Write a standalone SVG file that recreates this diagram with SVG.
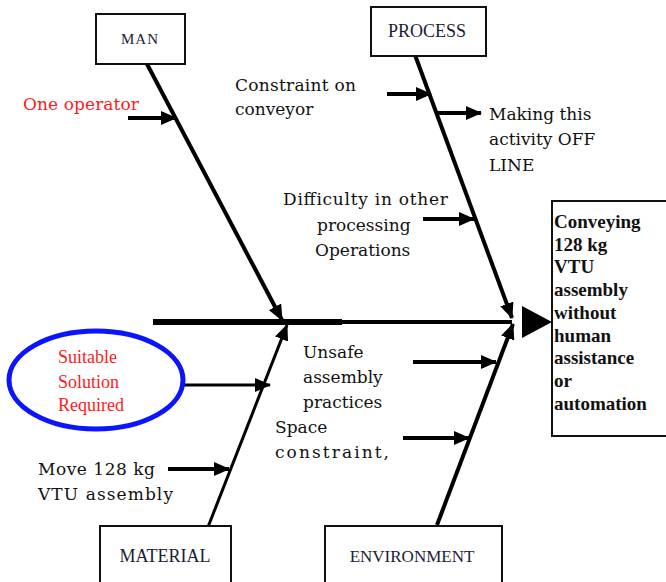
<svg xmlns="http://www.w3.org/2000/svg" width="666" height="582" viewBox="0 0 666 582">
<style>
  text { font-family: "Liberation Serif", serif; fill: #111; }
  .lbl { font-family: "DejaVu Serif", serif; font-size: 17px; }
  .cat { text-anchor: middle; fill: #1c1c33; }
  .red { fill: #ff1a1a; }
  .eff { font-size: 19px; font-weight: bold; }
  .box { fill: #fff; stroke: #111; stroke-width: 2; }
  .sub { stroke: #000; stroke-width: 4; fill: none; marker-end: url(#ah); }
</style>
<defs>
  <marker id="ah" markerUnits="userSpaceOnUse" markerWidth="16" markerHeight="14" refX="15" refY="7" orient="auto">
    <path d="M0,0 L16,7 L0,14 z" fill="#000"/>
  </marker>
</defs>
<rect width="666" height="582" fill="#fff"/>

<g id="connectors">
  <line x1="153" y1="322" x2="342" y2="322" stroke="#000" stroke-width="6"/>
  <line x1="340" y1="322" x2="512" y2="322" stroke="#000" stroke-width="4"/>
  <polygon points="522,306 552,322 522,338" fill="#000"/>
  <line class="sub" x1="147" y1="64" x2="282" y2="320"/>
  <line class="sub" x1="415" y1="55" x2="512" y2="318"/>
  <line class="sub" x1="208" y1="527" x2="287" y2="325" style="stroke-width:3"/>
  <line class="sub" x1="437" y1="525" x2="513" y2="324"/>
  <line class="sub" x1="128" y1="118" x2="176" y2="118"/>
  <line class="sub" x1="387" y1="94" x2="431" y2="94"/>
  <line class="sub" x1="436" y1="113" x2="481" y2="113"/>
  <line class="sub" x1="423" y1="219" x2="474" y2="219"/>
  <line class="sub" x1="183" y1="385" x2="270" y2="385" style="stroke-width:3"/>
  <line class="sub" x1="168" y1="469" x2="229" y2="469"/>
  <line class="sub" x1="413" y1="362" x2="496" y2="362"/>
  <line class="sub" x1="403" y1="438" x2="469" y2="438"/>
</g>

<g id="man">
  <rect class="box" x="96" y="14" width="89" height="50"/>
  <text class="cat" x="140" y="44" style="font-size:15px" letter-spacing="1">MAN</text>
</g>
<g id="process">
  <rect class="box" x="371" y="7" width="115" height="49"/>
  <text class="cat" x="427" y="37" style="font-size:18px">PROCESS</text>
</g>
<g id="material">
  <rect class="box" x="100" y="526" width="131" height="70"/>
  <text class="cat" x="165" y="562" style="font-size:18px">MATERIAL</text>
</g>
<g id="environment">
  <rect class="box" x="325" y="526" width="177" height="70"/>
  <text class="cat" x="412" y="562" style="font-size:17px">ENVIRONMENT</text>
</g>
<g id="effect">
  <rect class="box" x="552" y="201" width="120" height="235"/>
  <text class="eff" x="554" y="228">Conveying</text>
  <text class="eff" x="554" y="251">128 kg</text>
  <text class="eff" x="554" y="273">VTU</text>
  <text class="eff" x="554" y="296">assembly</text>
  <text class="eff" x="554" y="319">without</text>
  <text class="eff" x="554" y="342">human</text>
  <text class="eff" x="554" y="364">assistance</text>
  <text class="eff" x="554" y="387">or</text>
  <text class="eff" x="554" y="410">automation</text>
</g>
<g id="suitable">
  <ellipse cx="96" cy="380" rx="87" ry="49" fill="#fff" stroke="#0a14ff" stroke-width="5"/>
  <text class="red" x="58" y="363" style="font-size:18px">Suitable</text>
  <text class="red" x="58" y="388" style="font-size:18px">Solution</text>
  <text class="red" x="58" y="411" style="font-size:18px">Required</text>
</g>
<g id="one-operator">
  <text class="lbl red" x="23" y="110" textLength="116">One operator</text>
</g>
<g id="constraint">
  <text class="lbl" x="235" y="91" textLength="121">Constraint on</text>
  <text class="lbl" x="235" y="115">conveyor</text>
</g>
<g id="offline">
  <text class="lbl" x="489" y="120">Making this</text>
  <text class="lbl" x="489" y="145">activity OFF</text>
  <text class="lbl" x="489" y="171">LINE</text>
</g>
<g id="difficulty">
  <text class="lbl" x="283" y="205" textLength="165">Difficulty in other</text>
  <text class="lbl" x="317" y="231">processing</text>
  <text class="lbl" x="315" y="256">Operations</text>
</g>
<g id="unsafe">
  <text class="lbl" x="303" y="358">Unsafe</text>
  <text class="lbl" x="303" y="383">assembly</text>
  <text class="lbl" x="303" y="408">practices</text>
</g>
<g id="space">
  <text class="lbl" x="275" y="433">Space</text>
  <text class="lbl" x="275" y="458" textLength="114">constraint,</text>
</g>
<g id="move">
  <text class="lbl" x="38" y="475" textLength="117">Move 128 kg</text>
  <text class="lbl" x="38" y="500" textLength="135">VTU assembly</text>
</g>
</svg>
